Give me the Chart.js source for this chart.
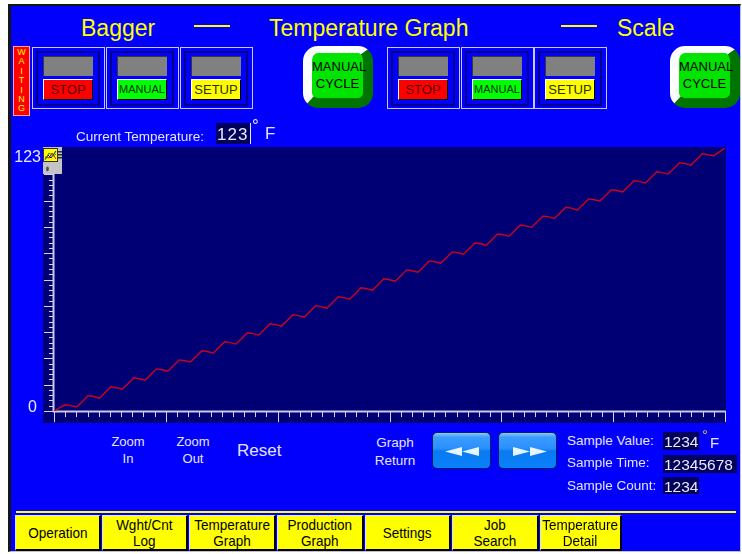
<!DOCTYPE html>
<html>
<head>
<meta charset="utf-8">
<script src="https://cdn.jsdelivr.net/npm/chart.js@4.4.1/dist/chart.umd.min.js"></script>
<style>
  body { margin: 0; width: 742px; height: 554px; overflow: hidden; background: #fff; position: relative;
         font-family: 'Liberation Sans', Arial, sans-serif; }
  .a { position: absolute; white-space: nowrap; line-height: 1; }
  .frame { position: absolute; left: 8px; top: 4px; width: 729px; height: 545px; background: #0000fc;
           border-left: 3px solid #151515; border-top: 2px solid #151515;
           border-right: 1px solid #c0c0d0; border-bottom: 1px solid #c0c0d0; }
  .title { color: #ffff00; font-size: 23px; top: 17px; }
  .dash { position: absolute; top: 25px; width: 36px; height: 2px; background: #ffff00; }
  .panel { position: absolute; top: 47px; width: 73px; height: 62px; box-sizing: border-box; border: 1px solid #c8c8ff; }
  .panel::before { content: ''; position: absolute; left: 3px; top: 3px; right: 4px; bottom: 2px; border: 2px solid #000088; }
  .lamp { position: absolute; left: 10px; top: 8px; width: 50px; height: 20px; box-sizing: border-box; background: #808080;
          border-top: 1px solid #383838; border-left: 1px solid #383838; }
  .btn { position: absolute; left: 10px; top: 31px; width: 50px; height: 21px; box-sizing: border-box; text-align: center;
         border-top: 1px solid #fff; border-left: 1px solid #fff; border-right: 1px solid #000; border-bottom: 1px solid #000;
         font-size: 13px; line-height: 19px; }
  .stop { background: #ff0000; color: #5a0000; }
  .man { background: #00ff00; color: #003000; font-size: 11px; }
  .set { background: #ffff00; color: #303000; }
  .cycle { position: absolute; top: 46px; width: 70px; height: 62px; box-sizing: border-box; border-radius: 15px;
           border-top: 7px solid #fff; border-left: 9px solid #fff; border-right: 10px solid #007400; border-bottom: 10px solid #007400;
           background: #00e400; color: #000; font-size: 13px; line-height: 17px; text-align: center; padding-top: 5px; }
  .lav { color: #e4e4ff; }
  .val { position: absolute; background: #00005a; color: #e8e8ff; font-size: 15.5px; line-height: 1; box-sizing: border-box; padding: 2px 0 0 1px; }
  .arrow { position: absolute; top: 432px; width: 59px; height: 37px; box-sizing: border-box; border: 1px solid #00205a; border-radius: 5px;
           background: linear-gradient(to bottom, #8cc8ff 0%, #3c9cff 12%, #2a90ff 44%, #0a7af0 52%, #0a80fa 100%); }
  .arrow svg { position: absolute; left: 0; top: 0; }
  .nav { position: absolute; top: 515px; height: 36px; box-sizing: border-box; background: #ffff00; color: #000;
         border-top: 1px solid #dcdcff; border-left: 1px solid #dcdcff; border-right: 2px solid #000; border-bottom: 2px solid #000;
         font-size: 15px; line-height: 16px; text-align: center; display: flex; align-items: center; justify-content: center; }
  .nav span { display: inline-block; transform: scaleX(0.9); white-space: nowrap; }
</style>
</head>
<body>
<div class="frame"></div>

<div class="a title" style="left:81px">Bagger</div>
<div class="dash" style="left:194px"></div>
<div class="a title" style="left:269px">Temperature Graph</div>
<div class="dash" style="left:561px"></div>
<div class="a title" style="left:617px">Scale</div>

<div class="a" style="left:13px;top:46px;width:17px;height:70px;box-sizing:border-box;background:#ff0000;border:1px solid #ffa0a0;
  color:#ffff00;font-size:9px;line-height:9.4px;text-align:center;white-space:normal;padding-top:1px">W<br>A<br>I<br>T<br>I<br>N<br>G</div>

<div class="panel" style="left:32px"><div class="lamp"></div><div class="btn stop">STOP</div></div>
<div class="panel" style="left:106px"><div class="lamp"></div><div class="btn man">MANUAL</div></div>
<div class="panel" style="left:180px"><div class="lamp"></div><div class="btn set">SETUP</div></div>
<div class="cycle" style="left:303px">MANUAL<br>CYCLE</div>
<div class="panel" style="left:387px"><div class="lamp"></div><div class="btn stop">STOP</div></div>
<div class="panel" style="left:461px"><div class="lamp"></div><div class="btn man">MANUAL</div></div>
<div class="panel" style="left:534px"><div class="lamp"></div><div class="btn set">SETUP</div></div>
<div class="cycle" style="left:670px">MANUAL<br>CYCLE</div>

<canvas id="graph" width="725" height="290" style="position:absolute;left:10px;top:140px"></canvas>

<div class="a lav" style="left:76px;top:130px;font-size:13.5px">Current Temperature:</div>
<div class="val" style="left:216px;top:123px;width:35px;height:21px;font-size:17px;letter-spacing:1px;border-right:1.5px solid #e8e8ff;padding-top:3px">123</div>
<div class="a lav" style="left:252px;top:117px;font-size:17px">°</div>
<div class="a lav" style="left:265px;top:125px;font-size:17px">F</div>

<svg class="a" style="left:43px;top:147px" width="19" height="27">
  <rect width="19" height="27" fill="#c4c4c4"/>
  <rect x="0.5" y="1.5" width="14" height="13" fill="#ffff00" stroke="#303030"/>
  <polyline points="2,12 5,8 8,11 13,4" fill="none" stroke="#0000ff" stroke-width="1"/>
  <polyline points="2,10 6,11 9,6 13,12" fill="none" stroke="#ff0000" stroke-width="1"/>
  <polyline points="2,13 6,6 10,9 13,7" fill="none" stroke="#00a000" stroke-width="1"/>
  <rect x="15" y="4" width="4" height="1.5" fill="#303030"/>
  <rect x="15" y="7" width="4" height="1.5" fill="#303030"/>
  <rect x="15" y="10" width="4" height="1.5" fill="#303030"/>
  <ellipse cx="4.5" cy="22" rx="1.4" ry="2.4" fill="#505050"/>
</svg>

<div class="a lav" style="left:103px;top:434px;width:50px;text-align:center;font-size:13px;line-height:16.7px">Zoom<br>In</div>
<div class="a lav" style="left:168px;top:434px;width:50px;text-align:center;font-size:13px;line-height:16.7px">Zoom<br>Out</div>
<div class="a lav" style="left:237px;top:442px;font-size:17px">Reset</div>
<div class="a lav" style="left:365px;top:434px;width:60px;text-align:center;font-size:13.5px;line-height:17.7px">Graph<br>Return</div>

<div class="arrow" style="left:432px"><svg width="59" height="37">
  <polygon points="12,18.5 29,14 29,23" fill="#e8f4ff"/><polygon points="29,18.5 46,14 46,23" fill="#e8f4ff"/></svg></div>
<div class="arrow" style="left:498px"><svg width="59" height="37">
  <polygon points="31,18.5 14,14 14,23" fill="#e8f4ff"/><polygon points="48,18.5 31,14 31,23" fill="#e8f4ff"/></svg></div>

<div class="a lav" style="left:567px;top:434px;font-size:13.5px">Sample Value:</div>
<div class="val" style="left:663px;top:432px;width:36px;height:18px">1234</div>
<div class="a" style="left:702px;top:427px;font-size:15px;color:#e0c040">°</div>
<div class="a lav" style="left:710px;top:435px;font-size:15px">F</div>
<div class="a lav" style="left:567px;top:456px;font-size:13.5px">Sample Time:</div>
<div class="val" style="left:663px;top:455px;width:74px;height:18px">12345678</div>
<div class="a lav" style="left:567px;top:479px;font-size:13.5px">Sample Count:</div>
<div class="val" style="left:663px;top:477px;width:36px;height:17px">1234</div>

<div class="a" style="left:16px;top:511px;width:720px;height:2px;background:#ffff00"></div>
<div class="nav" style="left:15px;width:86px"><span>Operation</span></div>
<div class="nav" style="left:102px;width:86px"><span>Wght/Cnt<br>Log</span></div>
<div class="nav" style="left:189px;width:87px"><span>Temperature<br>Graph</span></div>
<div class="nav" style="left:277px;width:87px"><span>Production<br>Graph</span></div>
<div class="nav" style="left:365px;width:86px"><span>Settings</span></div>
<div class="nav" style="left:452px;width:87px"><span>Job<br>Search</span></div>
<div class="nav" style="left:540px;width:82px"><span>Temperature<br>Detail</span></div>

<script>
const temperatures = [
  0.0, 1.6, 2.9, 2.5,
  1.9, 4.5, 7.2, 6.8,
  6.0, 8.6, 11.3, 10.9,
  10.2, 12.8, 15.5, 15.1,
  14.4, 17.0, 19.7, 19.3,
  18.6, 21.2, 23.9, 23.5,
  22.9, 25.5, 28.2, 27.8,
  27.1, 29.7, 32.4, 32.0,
  31.3, 33.9, 36.6, 36.2,
  35.5, 38.1, 40.8, 40.4,
  39.7, 42.3, 45.0, 44.6,
  43.9, 46.5, 49.2, 48.8,
  48.1, 50.7, 53.4, 53.0,
  52.3, 54.9, 57.6, 57.2,
  56.5, 59.1, 61.8, 61.4,
  60.7, 63.3, 66.0, 65.6,
  64.9, 67.5, 70.2, 69.8,
  69.1, 71.7, 74.4, 74.0,
  73.3, 75.9, 78.6, 78.2,
  77.5, 80.1, 82.8, 82.4,
  81.7, 84.3, 87.0, 86.6,
  85.9, 88.5, 91.2, 90.8,
  90.0, 92.6, 95.3, 94.9,
  93.9, 96.5, 99.2, 98.8,
  98.2, 100.8, 103.5, 103.1,
  102.4, 105.0, 107.7, 107.3,
  106.6, 109.2, 111.9, 111.5,
  110.8, 113.4, 116.1, 115.7,
  115.0, 117.6, 120.3, 119.9,
  119.3, 121.2, 123.0
]
const sampleNumbers = temperatures.map((t, i) => i)

const yMin = 0
const yMax = 123
const yLabels = ['0', '123']
const yTickDivisions = 50   // major tick every 5
const xTickDivisions = 60   // major tick every 10

// draws the HMI style frame: dark plot area, axis lines, long/short ticks, end labels
const hmiAxes = {
  id: 'hmiAxes',
  beforeDraw(chart) {
    const { ctx, chartArea: a } = chart
    ctx.save()
    ctx.fillStyle = '#000074'
    ctx.fillRect(a.left - 11, a.top - 1, a.right - a.left + 12, a.bottom - a.top + 13)
    ctx.restore()
  },
  beforeDatasetsDraw(chart) {
    const { ctx, chartArea: a, scales: { x, y } } = chart
    ctx.save()
    ctx.strokeStyle = '#d4d4f4'
    ctx.lineWidth = 1
    ctx.beginPath()
    for (let i = 0; i <= yTickDivisions; i++) {
      const py = Math.round(y.getPixelForValue(yMin + (yMax - yMin) * i / yTickDivisions)) + 0.5
      const len = i % 5 === 0 ? 10 : 5
      ctx.moveTo(a.left - len, py)
      ctx.lineTo(a.left, py)
    }
    for (let i = 0; i <= xTickDivisions; i++) {
      const px = Math.round(x.getPixelForValue(x.min + (x.max - x.min) * i / xTickDivisions)) + 0.5
      const len = i % 10 === 0 ? 11 : 6
      ctx.moveTo(px, a.bottom)
      ctx.lineTo(px, a.bottom + len)
    }
    ctx.stroke()

    ctx.lineWidth = 2
    ctx.strokeStyle = '#c8c8ec'
    ctx.beginPath()
    ctx.moveTo(a.left - 0.5, a.top)
    ctx.lineTo(a.left - 0.5, a.bottom + 1)
    ctx.moveTo(a.left - 1, a.bottom + 0.5)
    ctx.lineTo(a.right + 1, a.bottom + 0.5)
    ctx.stroke()

    ctx.fillStyle = '#e8e8ff'
    ctx.font = '16px "Liberation Sans", Arial, sans-serif'
    ctx.textAlign = 'right'
    ctx.textBaseline = 'alphabetic'
    ctx.fillText(yLabels[1], a.left - 13, y.getPixelForValue(yMax) + 14)
    ctx.fillText(yLabels[0], a.left - 17, y.getPixelForValue(yMin) + 1)
    ctx.restore()
  }
}

const ctx = document.getElementById('graph').getContext('2d')
new Chart(ctx, {
  type: 'line',
  data: {
    labels: sampleNumbers,
    datasets: [
      {
        label: 'Temperature',
        data: temperatures,
        borderColor: '#d0001c',
        borderWidth: 1.4,
        pointRadius: 0,
        tension: 0,
        fill: false,
      },
    ],
  },
  options: {
    responsive: false,
    animation: false,
    events: [],
    layout: { padding: { left: 44, right: 10, top: 8, bottom: 19 } },
    plugins: { legend: { display: false }, tooltip: { enabled: false } },
    scales: {
      x: { type: 'linear', min: 0, max: sampleNumbers.length - 1, display: false },
      y: { min: yMin, max: yMax, display: false },
    },
  },
  plugins: [hmiAxes],
})
</script>
</body>
</html>
